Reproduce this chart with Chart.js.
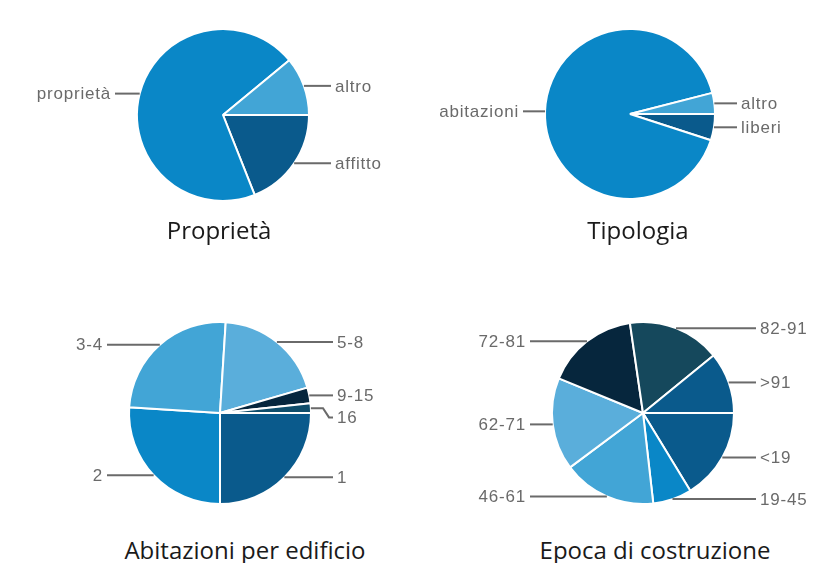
<!DOCTYPE html>
<html>
<head>
<meta charset="utf-8">
<script src="https://cdn.jsdelivr.net/npm/chart.js@4.4.1/dist/chart.umd.min.js"></script>
<style>
  html, body { margin: 0; padding: 0; background: #ffffff; }
  #page { position: relative; width: 840px; height: 563px; overflow: hidden; background: #ffffff; }
  .pie { position: absolute; }
  .title {
    position: absolute;
    font-family: "Open Sans", sans-serif;
    font-size: 24px;
    line-height: 30px;
    color: #1a1a1a;
    white-space: nowrap;
    transform: translateX(-50%);
  }
</style>
</head>
<body>
<div id="page">
  <canvas id="pieProprieta" class="pie"></canvas>
  <canvas id="pieTipologia" class="pie"></canvas>
  <canvas id="pieAbitazioni" class="pie"></canvas>
  <canvas id="pieEpoca" class="pie"></canvas>
  <div class="title" id="tProprieta"></div>
  <div class="title" id="tTipologia"></div>
  <div class="title" id="tAbitazioni"></div>
  <div class="title" id="tEpoca"></div>
</div>
<script>
// Shares (percent), listed clockwise starting from 3 o'clock
const proprietaLabels = ['affitto', 'proprietà', 'altro'];
const proprietaValues = [19, 70, 11];

const tipologiaLabels = ['liberi', 'abitazioni', 'altro'];
const tipologiaValues = [5, 91, 4];

const abitazioniLabels = ['1', '2', '3-4', '5-8', '9-15', '16'];
const abitazioniValues = [25, 26, 25, 19.5, 2.8, 1.7];

const epocaLabels = ['<19', '19-45', '46-61', '62-71', '72-81', '82-91', '>91'];
const epocaValues = [16.3, 6.9, 16.6, 16.4, 16.5, 16.4, 10.9];

const chartTitles = ['Proprietà', 'Tipologia', 'Abitazioni per edificio', 'Epoca di costruzione'];

// palette
const BLUE = '#0a87c7', LIGHT = '#42a5d6', PALE = '#5aaedb', DARK = '#0a5a8c',
      NAVY = '#06263d', DEEP = '#0e4d6b', TEAL = '#15485c';

// Leader lines + outside labels for each slice
const leaderLabels = {
  id: 'leaderLabels',
  afterDatasetsDraw(chart, args, opts) {
    const ctx = chart.ctx;
    const meta = chart.getDatasetMeta(0);
    const labels = chart.data.labels;
    const items = meta.data.map((arc, i) => {
      const p = arc.getProps(['x', 'y', 'startAngle', 'endAngle', 'outerRadius'], true);
      const mid = (p.startAngle + p.endAngle) / 2;
      const px = p.x + Math.cos(mid) * p.outerRadius;
      const py = p.y + Math.sin(mid) * p.outerRadius;
      return { text: labels[i], px, py, ly: py, right: Math.cos(mid) >= 0, cx: p.x, r: p.outerRadius };
    });
    [true, false].forEach(side => {
      const list = items.filter(it => it.right === side).sort((a, b) => a.py - b.py);
      for (let k = 1; k < list.length; k++) {
        if (list[k].ly < list[k - 1].ly + opts.gap) list[k].ly = list[k - 1].ly + opts.gap;
      }
    });
    ctx.save();
    ctx.strokeStyle = opts.color;
    ctx.fillStyle = opts.color;
    ctx.lineWidth = 2;
    ctx.font = '17px "Liberation Sans", Arial, sans-serif';
    ctx.letterSpacing = '0.8px';
    items.forEach(it => {
      const dir = it.right ? 1 : -1;
      const colX = it.cx + dir * (it.r + opts.reach);
      ctx.beginPath();
      ctx.moveTo(it.px, it.py);
      if (Math.abs(it.ly - it.py) > 0.5) {
        ctx.lineTo(colX - dir * 10, it.py);
        ctx.lineTo(colX - dir * 4, it.ly);
      }
      ctx.lineTo(colX, it.ly);
      ctx.stroke();
      ctx.textAlign = it.right ? 'left' : 'right';
      ctx.textBaseline = 'middle';
      ctx.fillText(it.text, colX + dir * 4, it.ly + 1);
    });
    ctx.restore();
  }
};

function makePie(id, labels, values, colors, cx, cy, radius) {
  const W = 420, H = 240;
  const cv = document.getElementById(id);
  cv.style.left = (cx - W / 2) + 'px';
  cv.style.top = (cy - H / 2) + 'px';
  cv.style.width = W + 'px';
  cv.style.height = H + 'px';
  cv.width = W; cv.height = H;
  return new Chart(cv, {
    type: 'pie',
    data: {
      labels: labels,
      datasets: [{
        data: values,
        backgroundColor: colors,
        borderColor: '#ffffff',
        borderWidth: 2
      }]
    },
    options: {
      responsive: false,
      animation: false,
      rotation: 90,
      radius: radius,
      layout: { padding: 0 },
      plugins: {
        legend: { display: false },
        tooltip: { enabled: false },
        leaderLabels: { color: '#6a6a6a', reach: 22, gap: 22 }
      }
    },
    plugins: [leaderLabels]
  });
}

makePie('pieProprieta', proprietaLabels, proprietaValues, [DARK, BLUE, LIGHT], 223, 115, 86);
makePie('pieTipologia', tipologiaLabels, tipologiaValues, [DARK, BLUE, LIGHT], 630, 114, 85);
makePie('pieAbitazioni', abitazioniLabels, abitazioniValues, [DARK, BLUE, LIGHT, PALE, NAVY, DEEP], 220, 413, 91);
makePie('pieEpoca', epocaLabels, epocaValues, [DARK, BLUE, LIGHT, PALE, NAVY, TEAL, DARK], 643, 413, 91);

// captions under each pie
const titlePlaces = [['tProprieta', 219, 215], ['tTipologia', 638, 215], ['tAbitazioni', 245, 535], ['tEpoca', 655, 535]];
titlePlaces.forEach(([id, x, y], i) => {
  const el = document.getElementById(id);
  el.textContent = chartTitles[i];
  el.style.left = x + 'px';
  el.style.top = y + 'px';
});
</script>
</body>
</html>
